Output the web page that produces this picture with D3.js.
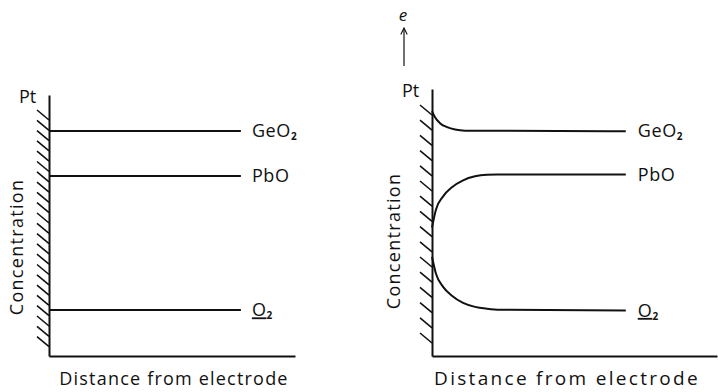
<!DOCTYPE html>
<html>
<head>
<meta charset="utf-8">
<script src="https://cdn.jsdelivr.net/npm/d3@7"></script>
<style>
  body { margin: 0; background: #fff; }
  svg { display: block; }
  text { font-family: "Open Sans", "DejaVu Sans", sans-serif; fill: #111; }
</style>
</head>
<body>
<svg id="chart" width="718" height="392"></svg>
<script>
// concentration profiles, distance 0..10, concentration 0..10
var species = ["GeO", "PbO", "O"];

// left panel: flat profiles
var leftX = [0, 7.8];
var leftGeO2 = [8.62, 8.62];
var leftPbO = [6.90, 6.90];
var leftO2 = [1.76, 1.76];

// right panel: profiles bending near the electrode
var rightGeO2X = [0, 0.1, 0.28, 0.53, 0.81, 1.16, 6.8];
var rightGeO2Y = [9.17, 8.95, 8.72, 8.57, 8.48, 8.44, 8.42];
var rightPbOX = [0, 0.14, 0.39, 0.70, 1.09, 1.51, 1.93, 2.28, 6.8];
var rightPbOY = [4.81, 5.49, 5.98, 6.32, 6.58, 6.73, 6.79, 6.80, 6.80];
var rightO2X = [0, 0.14, 0.39, 0.70, 1.09, 1.51, 1.93, 2.39, 6.8];
var rightO2Y = [3.72, 3.08, 2.59, 2.26, 1.99, 1.84, 1.77, 1.73, 1.70];

var svg = d3.select("#chart");

function zip(xs, ys) { return xs.map((d, i) => [d, ys[i]]); }

function panel(opt) {
    var x = d3.scaleLinear().domain([0, 10]).range([opt.left, opt.right]);
    var y = d3.scaleLinear().domain([0, 10]).range([opt.bottom, opt.top]);
    var g = svg.append("g");

    // hatching of the Pt electrode
    var hatch = d3.range(opt.hatchN).map(i => opt.hatchTop + i * opt.hatchStep);
    g.selectAll("line.hatch")
        .data(hatch)
        .enter()
        .append("line")
        .attr("x1", opt.left - 12)
        .attr("y1", d => d)
        .attr("x2", opt.left)
        .attr("y2", d => d + 10)
        .attr("stroke", "#111")
        .attr("stroke-width", 1.6);

    g.append("g")
        .attr("transform", "translate(" + opt.left + ",0)")
        .call(d3.axisLeft(y).tickValues([]).tickSizeOuter(0));
    g.append("g")
        .attr("transform", "translate(0," + opt.bottom + ")")
        .call(d3.axisBottom(x).tickValues([]).tickSizeOuter(0));
    g.selectAll(".domain").attr("stroke", "#111").attr("stroke-width", 2);

    var line = d3.line()
        .x(d => x(d[0]))
        .y(d => y(d[1]))
        .curve(d3.curveMonotoneX);

    opt.series.forEach(function(s, i) {
        g.append("path")
            .datum(s)
            .attr("d", line)
            .attr("fill", "none")
            .attr("stroke", "#111")
            .attr("stroke-width", 2);
        var last = s[s.length - 1];
        var t = g.append("text")
            .attr("x", x(last[0]) + opt.labelGap)
            .attr("y", y(last[1]))
            .attr("dy", "0.35em")
            .attr("font-size", 18)
            .attr("letter-spacing", 0.6);
        if (species[i] === "O") {
            t.append("tspan").text("O").attr("text-decoration", "underline");
        } else {
            t.append("tspan").text(species[i]);
        }
        if (species[i] !== "PbO") {
            t.append("tspan").text("2").attr("font-size", 10).attr("font-weight", "bold").attr("dy", 3);
        }
    });

    g.append("text")
        .attr("x", opt.left - 30)
        .attr("y", opt.top + 8)
        .attr("font-size", 18)
        .text("Pt");

    g.append("text")
        .attr("transform", "translate(" + (opt.left - opt.concGap) + "," + opt.concY + ") rotate(-90)")
        .attr("text-anchor", "middle")
        .attr("font-size", 18)
        .attr("letter-spacing", opt.concSpacing)
        .text("Concentration");

    g.append("text")
        .attr("x", opt.titleX)
        .attr("y", 385)
        .attr("text-anchor", "middle")
        .attr("font-size", opt.titleSize)
        .attr("letter-spacing", opt.titleSpacing)
        .text("Distance from electrode");
    return g;
}

panel({
    left: 49, right: 295, top: 95, bottom: 356,
    hatchN: 23, hatchTop: 110, hatchStep: 10.3,
    series: [zip(leftX, leftGeO2), zip(leftX, leftPbO), zip(leftX, leftO2)],
    labelGap: 11, concGap: 26, concY: 247, concSpacing: 1.3,
    titleX: 174, titleSize: 18, titleSpacing: 1.2
});

panel({
    left: 432, right: 717, top: 89, bottom: 356,
    hatchN: 16, hatchTop: 105, hatchStep: 15.2,
    series: [zip(rightGeO2X, rightGeO2Y), zip(rightPbOX, rightPbOY), zip(rightO2X, rightO2Y)],
    labelGap: 12, concGap: 32, concY: 241, concSpacing: 1.3,
    titleX: 567, titleSize: 19, titleSpacing: 2.3
});

// electron arrow above the right electrode
svg.append("defs").append("marker")
    .attr("id", "head")
    .attr("viewBox", "0 0 10 10")
    .attr("refX", 9).attr("refY", 5)
    .attr("markerWidth", 8).attr("markerHeight", 8)
    .attr("markerUnits", "userSpaceOnUse")
    .attr("orient", "auto")
    .append("path")
    .attr("d", "M1,1 L9,5 L1,9")
    .attr("fill", "none")
    .attr("stroke", "#111")
    .attr("stroke-width", 1.4);
svg.append("line")
    .attr("x1", 404).attr("y1", 66)
    .attr("x2", 404).attr("y2", 28)
    .attr("stroke", "#111")
    .attr("stroke-width", 1.2)
    .attr("marker-end", "url(#head)");
svg.append("text")
    .attr("x", 403).attr("y", 21)
    .attr("text-anchor", "middle")
    .attr("font-size", 17)
    .attr("font-style", "italic")
    .text("e");
</script>
</body>
</html>
